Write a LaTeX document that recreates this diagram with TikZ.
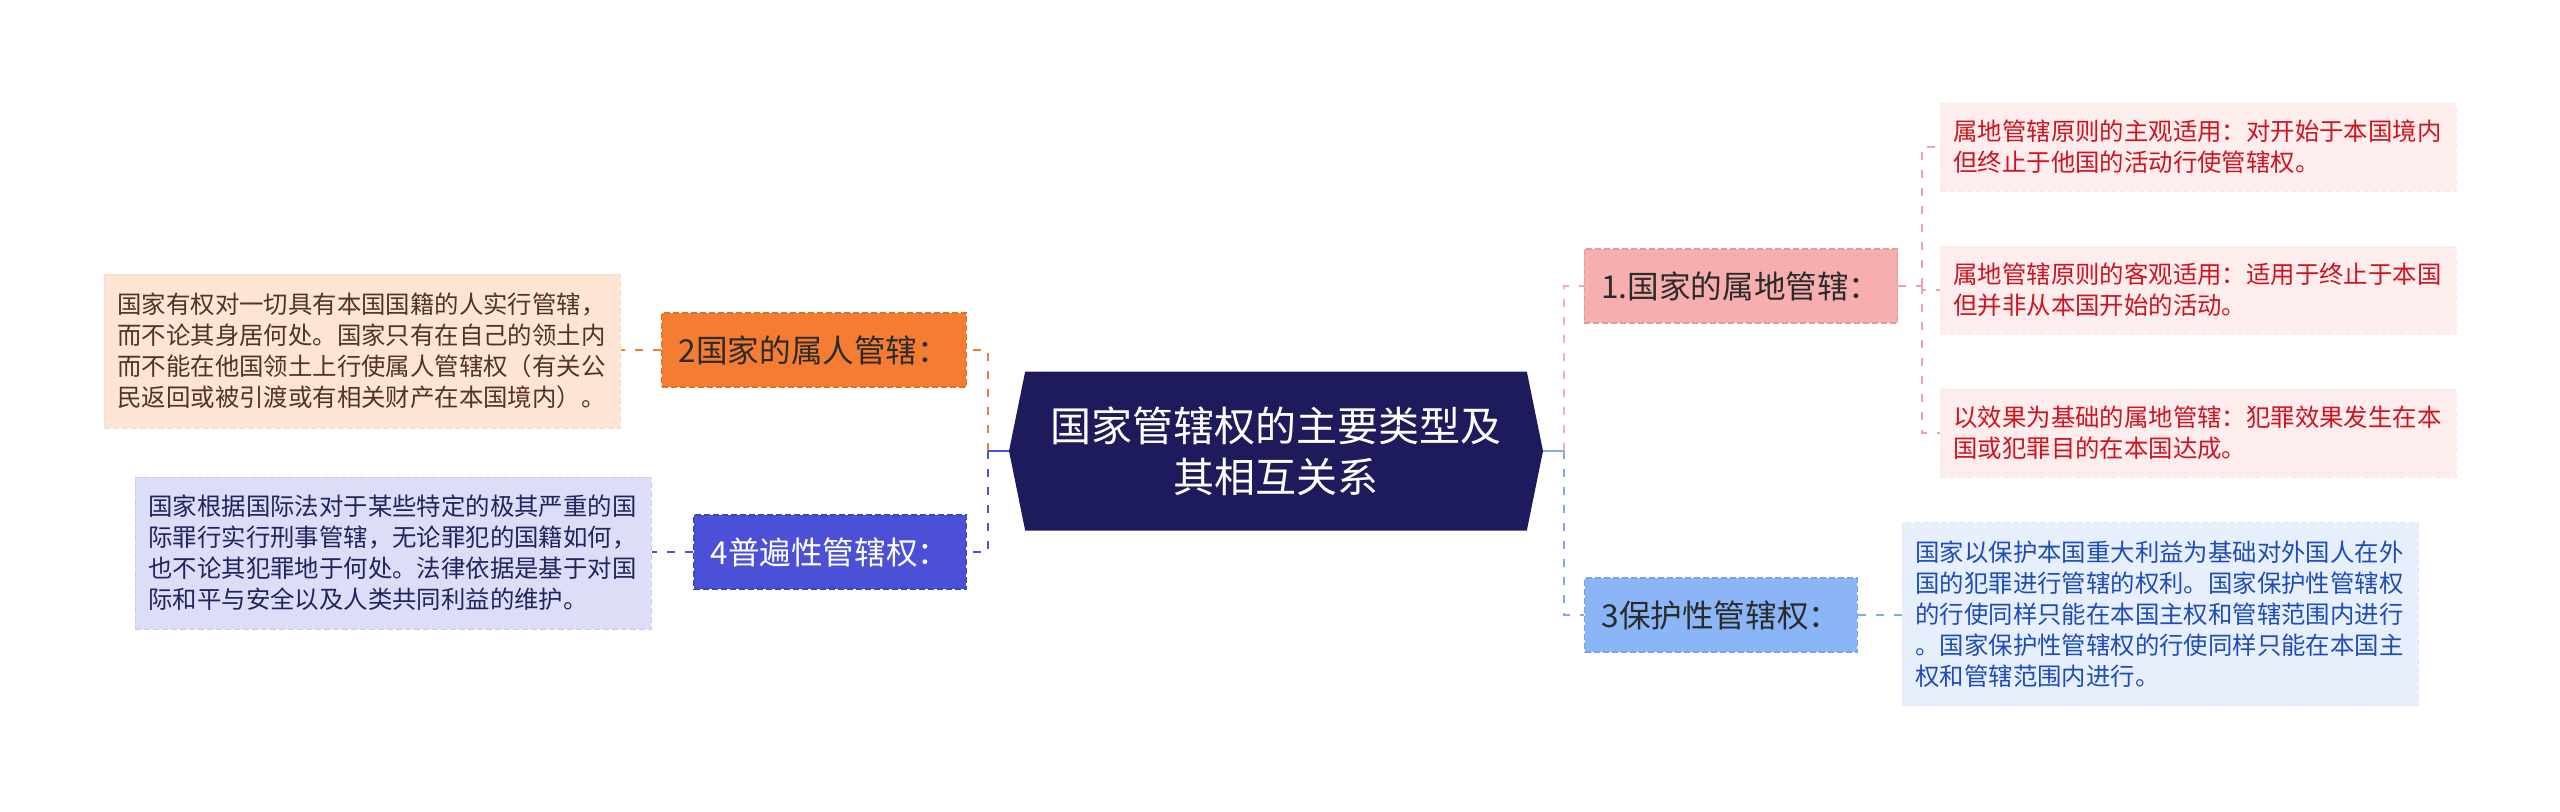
\documentclass[tikz,border=0pt]{standalone}
\usepackage{fontspec}
\setmainfont{Noto Sans CJK SC}
\usetikzlibrary{positioning,shapes.symbols}
\definecolor{marinho}{HTML}{1E1B5C}
\definecolor{laranja}{HTML}{F57C33}
\definecolor{laranjaborda}{HTML}{E56F25}
\definecolor{pessego}{HTML}{FDE4D5}
\definecolor{marrom}{HTML}{553322}
\definecolor{violeta}{HTML}{4B50D6}
\definecolor{lilas}{HTML}{DCDDF6}
\definecolor{anil}{HTML}{23245E}
\definecolor{rosa}{HTML}{F7AEAE}
\definecolor{rosalinha}{HTML}{EBA3AA}
\definecolor{rosaclaro}{HTML}{FDEDED}
\definecolor{vermelho}{HTML}{CF1420}
\definecolor{celeste}{HTML}{8AB5F6}
\definecolor{celestelinha}{HTML}{82A9EC}
\definecolor{gelo}{HTML}{E7EFFC}
\definecolor{azul}{HTML}{1E4DB7}
\definecolor{grafite}{HTML}{2B2B2B}

\begin{document}
\begin{tikzpicture}[x=0.5pt,y=-0.5pt,
raiz/.style={shape=signal, signal to=west and east, signal pointer angle=157, fill=marinho, text=white, align=center, minimum width=267pt, minimum height=79.5pt, inner sep=0pt, font=\fontsize{20.5}{25.5}\selectfont},
ramo/.style={draw, dash pattern=on 3pt off 1.5pt, line width=0.6pt, minimum height=37pt, inner xsep=8.5pt, font=\fontsize{15.8}{18}\selectfont},
folha/.style={draw, dash pattern=on 3pt off 1.5pt, line width=0.5pt, align=left, text width=244.5pt, inner xsep=6.75pt, font=\fontsize{12.2}{15.5}\selectfont},
liga/.style={line width=1.25pt, dash pattern=on 4pt off 5pt}
]
\useasboundingbox (0,0) rectangle (2560,811);

\node[raiz] (raiz) at (1276,451) {国家管辖权的主要类型及\\其相互关系};

\node[ramo, fill=laranja, draw=laranjaborda, text=grafite] (pessoal) at (814,350) {2国家的属人管辖：};
\node[folha, fill=pessego, draw=pessego!88!laranja, text=marrom, minimum height=77pt] (pessoaltxt) at (362,351) {国家有权对一切具有本国国籍的人实行管辖，\\而不论其身居何处。国家只有在自己的领土内\\而不能在他国领土上行使属人管辖权（有关公\\民返回或被引渡或有相关财产在本国境内）。};

\node[ramo, fill=violeta, draw=violeta!85!black, text=white] (universal) at (830,552) {4普遍性管辖权：};
\node[folha, fill=lilas, draw=lilas!88!violeta, text=anil, minimum height=76pt] (universaltxt) at (393,553) {国家根据国际法对于某些特定的极其严重的国\\际罪行实行刑事管辖，无论罪犯的国籍如何，\\也不论其犯罪地于何处。法律依据是基于对国\\际和平与安全以及人类共同利益的维护。};

\node[ramo, fill=rosa, draw=rosa!90!black, text=grafite] (territorial) at (1741,286) {1.国家的属地管辖：};
\node[folha, fill=rosaclaro, draw=rosaclaro!92!rosa, text=vermelho, minimum height=44pt] (subjetivo) at (2198,147) {属地管辖原则的主观适用：对开始于本国境内\\但终止于他国的活动行使管辖权。};
\node[folha, fill=rosaclaro, draw=rosaclaro!92!rosa, text=vermelho, minimum height=44pt, below=27pt of subjetivo] (objetivo) {属地管辖原则的客观适用：适用于终止于本国\\但并非从本国开始的活动。};
\node[folha, fill=rosaclaro, draw=rosaclaro!92!rosa, text=vermelho, minimum height=44pt, below=27pt of objetivo] (efeito) {以效果为基础的属地管辖：犯罪效果发生在本\\国或犯罪目的在本国达成。};

\node[ramo, fill=celeste, draw=celeste!90!black, text=grafite] (protetiva) at (1721,615) {3保护性管辖权：};
\node[folha, fill=gelo, draw=gelo!88!celeste, text=azul, minimum height=91.5pt] (protetivatxt) at (2160,614) {国家以保护本国重大利益为基础对外国人在外\\国的犯罪进行管辖的权利。国家保护性管辖权\\的行使同样只能在本国主权和管辖范围内进行\\。国家保护性管辖权的行使同样只能在本国主\\权和管辖范围内进行。};

\coordinate (jesq) at (988,451);
\coordinate (jdir) at (1564,451);
\coordinate (jter) at (1922,286);

\draw[liga, laranja] (jesq) |- (pessoal.east);
\draw[liga, violeta] (jesq) |- (universal.east);
\draw[liga, violeta, solid] (raiz.west) -- (jesq);
\draw[liga, rosa] (jdir) |- (territorial.west);
\draw[liga, celestelinha] (jdir) |- (protetiva.west);
\draw[liga, celestelinha, solid] (raiz.east) -- (jdir);

\draw[liga, laranja] (pessoal.west) -- (pessoal.west -| pessoaltxt.east);
\draw[liga, violeta] (universal.west) -- (universal.west -| universaltxt.east);
\draw[liga, celestelinha] (protetiva.east) -- (protetiva.east -| protetivatxt.west);
\draw[liga, rosalinha] (territorial.east) -- (jter);
\draw[liga, rosalinha] (jter) |- (subjetivo.west);
\draw[liga, rosalinha] (jter) |- (objetivo.west);
\draw[liga, rosalinha] (jter) |- (efeito.west);
\end{tikzpicture}
\end{document}
